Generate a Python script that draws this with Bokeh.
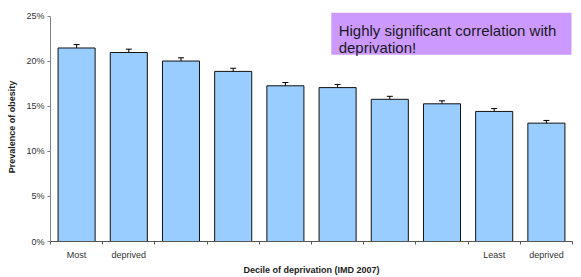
from bokeh.plotting import figure
from bokeh.models import (ColumnDataSource, Range1d, FixedTicker, Label,
                          BoxAnnotation, Whisker, TeeHead)
from bokeh.embed import file_html
from bokeh.resources import INLINE

# ---- data ----
deciles = [1, 2, 3, 4, 5, 6, 7, 8, 9, 10]
prevalence = [21.5, 21.0, 20.05, 18.9, 17.3, 17.1, 15.8, 15.3, 14.45, 13.15]
error = [0.38, 0.37, 0.36, 0.35, 0.36, 0.35, 0.33, 0.33, 0.32, 0.30]
x_labels = {1: "Most", 2: "deprived", 9: "Least", 10: "deprived"}
y_ticks = [0, 5, 10, 15, 20, 25]
y_tick_labels = ["0%", "5%", "10%", "15%", "20%", "25%"]
x_title = "Decile of deprivation (IMD 2007)"
y_title = "Prevalence of obesity"
note_lines = ["Highly significant correlation with", "deprivation!"]

FONT = "Liberation Sans"

xc = [d - 0.5 for d in deciles]
src = ColumnDataSource(dict(
    x=xc, top=prevalence,
    upper=[v + e for v, e in zip(prevalence, error)],
    lower=[v - e for v, e in zip(prevalence, error)],
))

p = figure(width=581, height=277, output_backend="svg", toolbar_location=None,
           x_range=Range1d(0, 10), y_range=Range1d(0, 25.444),
           min_border_left=50, min_border_right=9, min_border_top=12,
           min_border_bottom=36)
p.outline_line_color = None
p.grid.visible = False
p.background_fill_color = "white"
p.border_fill_color = "white"

p.vbar(x="x", top="top", width=0.71, bottom=0, source=src,
       fill_color="#99ccff", line_color="#111111", line_width=1)

wh = Whisker(base="x", upper="upper", lower="lower", source=src,
             line_color="black", line_width=1,
             upper_head=TeeHead(size=6, line_color="black", line_width=1),
             lower_head=TeeHead(size=6, line_color="black", line_width=1))
p.add_layout(wh)

# y axis
ya = p.yaxis[0]
ya.ticker = FixedTicker(ticks=y_ticks)
ya.bounds = (0, 25)
ya.major_label_overrides = {t: l for t, l in zip(y_ticks, y_tick_labels)}
ya.minor_tick_line_color = None
ya.major_tick_in = 0
ya.major_tick_out = 3
ya.major_label_standoff = 3
ya.axis_line_color = "#808080"
ya.major_tick_line_color = "#808080"
ya.major_label_text_font = FONT
ya.major_label_text_font_size = "9px"
ya.major_label_text_color = "#333333"
ya.axis_label = y_title
ya.axis_label_text_font = FONT
ya.axis_label_text_font_size = "9px"
ya.axis_label_text_font_style = "bold"
ya.axis_label_text_color = "#222222"
ya.axis_label_standoff = 6

# x axis: labels at bar centres, tick marks at decile boundaries
xa = p.xaxis[0]
xa.ticker = FixedTicker(ticks=[d - 0.5 for d in x_labels],
                        minor_ticks=[d - 1 for d in deciles] + [deciles[-1]])
xa.major_label_overrides = {d - 0.5: lab for d, lab in x_labels.items()}
xa.major_tick_in = 0
xa.major_tick_out = 0
xa.minor_tick_in = 0
xa.minor_tick_out = 3
xa.axis_line_color = "#555555"
xa.minor_tick_line_color = "#555555"
xa.major_label_standoff = 5
xa.major_label_text_font = FONT
xa.major_label_text_font_size = "9px"
xa.major_label_text_color = "#333333"
xa.axis_label = x_title
xa.axis_label_text_font = FONT
xa.axis_label_text_font_size = "9px"
xa.axis_label_text_font_style = "bold"
xa.axis_label_text_color = "#222222"
xa.axis_label_standoff = 2

# note box
p.add_layout(BoxAnnotation(left=5.38, right=9.98, top=25.444, bottom=20.74,
                           fill_color="#cc99ff", fill_alpha=1.0,
                           line_color=None))
p.add_layout(Label(x=5.52, y=23.44, text=note_lines[0], text_align="left",
                   text_baseline="alphabetic", text_font=FONT,
                   text_font_size="15px", text_color="#1a1a1a"))
p.add_layout(Label(x=5.52, y=21.5, text=note_lines[1], text_align="left",
                   text_baseline="alphabetic", text_font=FONT,
                   text_font_size="15px", text_color="#1a1a1a"))

open("out.html", "w").write(file_html(p, INLINE))
